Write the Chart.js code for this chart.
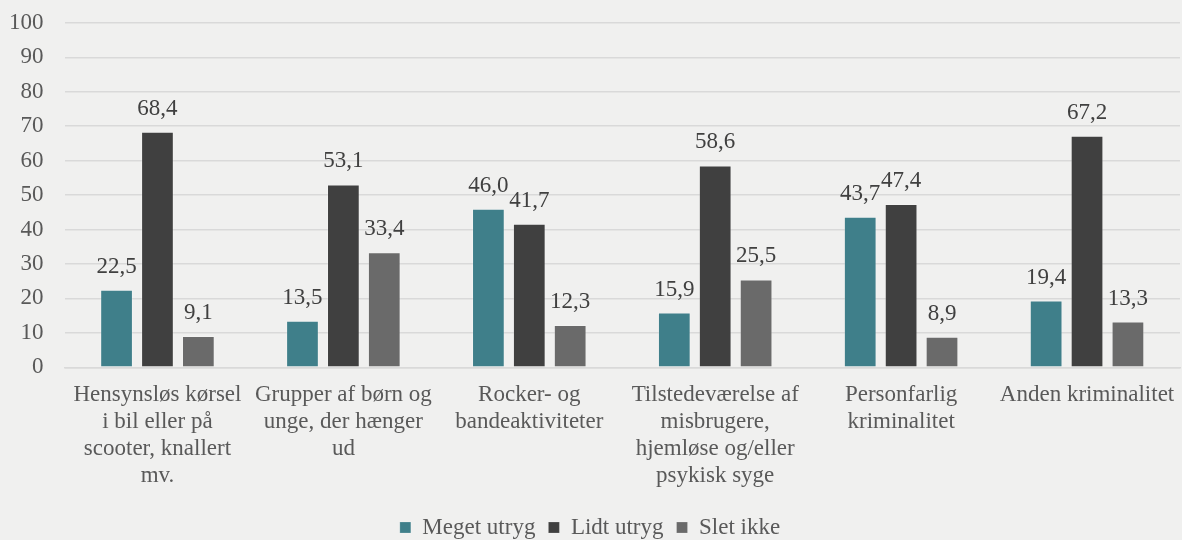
<!DOCTYPE html>
<html><head><meta charset="utf-8">
<script src="https://cdn.jsdelivr.net/npm/chart.js@4"></script>
<style>html,body{margin:0;padding:0;background:#f0f0ef;}#wrap{width:1182px;height:540px;}</style>
</head><body><div id="wrap"><canvas id="c" width="1182" height="540"></canvas></div>
<script>
const categories = [
  ["Hensynsløs kørsel","i bil eller på","scooter, knallert","mv."],
  ["Grupper af børn og","unge, der hænger","ud"],
  ["Rocker- og","bandeaktiviteter"],
  ["Tilstedeværelse af","misbrugere,","hjemløse og/eller","psykisk syge"],
  ["Personfarlig","kriminalitet"],
  ["Anden kriminalitet"]
];
const seriesNames = ["Meget utryg","Lidt utryg","Slet ikke"];
const megetUtryg = [22.5, 13.5, 46.0, 15.9, 43.7, 19.4];
const lidtUtryg = [68.4, 53.1, 41.7, 58.6, 47.4, 67.2];
const sletIkke = [9.1, 33.4, 12.3, 25.5, 8.9, 13.3];
const yTicks = [0,10,20,30,40,50,60,70,80,90,100];
const colors = ["#3f7f8a","#404040","#6a6a6a"];

const FONT = "'Liberation Serif','Times New Roman',serif";
const labelPlugin = {
  id: 'vals',
  afterDatasetsDraw(chart) {
    const ctx = chart.ctx;
    ctx.save();
    ctx.font = "23px " + FONT;
    ctx.fillStyle = "#404040";
    ctx.textAlign = "center";
    ctx.textBaseline = "alphabetic";
    chart.data.datasets.forEach((ds, i) => {
      chart.getDatasetMeta(i).data.forEach((bar, j) => {
        ctx.fillText(ds.data[j].toFixed(1).replace('.', ','), bar.x, bar.y - 17);
      });
    });
    ctx.restore();
  }
};

new Chart(document.getElementById('c'), {
  type: 'bar',
  data: {
    labels: categories,
    datasets: [
      {label: seriesNames[0], data: megetUtryg, backgroundColor: colors[0]},
      {label: seriesNames[1], data: lidtUtryg, backgroundColor: colors[1]},
      {label: seriesNames[2], data: sletIkke, backgroundColor: colors[2]}
    ]
  },
  options: {
    responsive: false,
    animation: false,
    layout: {padding: {left: 0, right: 2, top: 0, bottom: -9}},
    datasets: {bar: {categoryPercentage: 0.66, barPercentage: 0.8, borderWidth: 1, borderColor: 'rgba(255,255,255,0.2)'}},
    plugins: {
      legend: {
        position: 'bottom',
        labels: {font: {family: FONT, size: 23}, color: '#595959', boxWidth: 11, boxHeight: 11, padding: 13}
      },
      tooltip: {enabled: false}
    },
    scales: {
      x: {
        grid: {display: false},
        border: {color: '#d9d9d9', width: 1.5},
        afterFit(scale) { scale.height += 8; },
        ticks: {font: {family: FONT, size: 23, lineHeight: 1.17}, color: '#595959', maxRotation: 0, autoSkip: false, padding: 6}
      },
      y: {
        min: 0, max: 100,
        afterBuildTicks(scale) { scale.ticks = yTicks.map(v => ({value: v})); },
        ticks: {font: {family: FONT, size: 23}, color: '#595959', padding: 9},
        grid: {color: '#d9d9d9', lineWidth: 1.5, drawTicks: true, tickLength: 12, tickColor: 'rgba(0,0,0,0)'},
        border: {display: false}
      }
    }
  },
  plugins: [labelPlugin]
});
</script></body></html>
